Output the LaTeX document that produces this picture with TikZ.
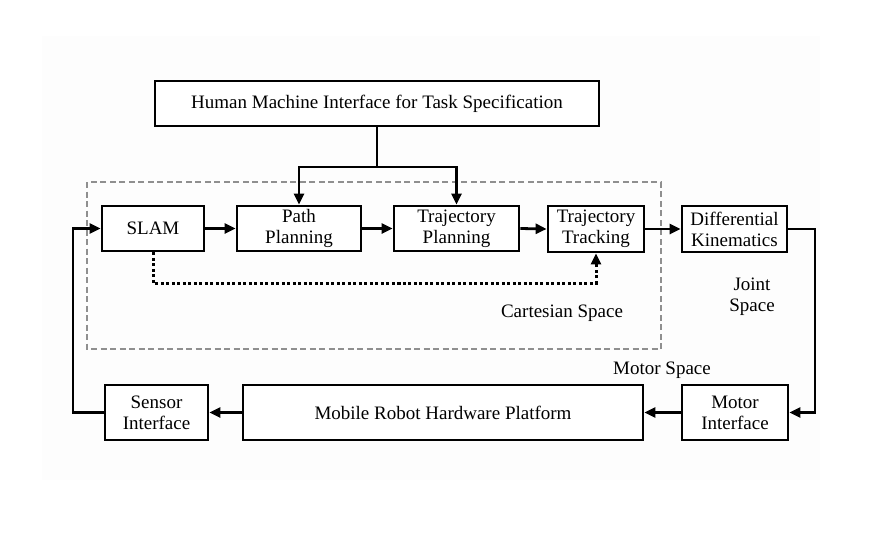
\documentclass[tikz,border=0pt]{standalone}
\usepackage{fontspec}
\setmainfont{Liberation Serif}
\usetikzlibrary{arrows.meta}
\definecolor{dashgray}{HTML}{8F8F8F}
\definecolor{faint}{HTML}{FDFDFD}
\tikzset{
  box/.style={draw=black, line width=2.8pt, fill=white, align=center, inner sep=0pt,
    font=\fontsize{19}{21}\selectfont},
  lbl/.style={align=center, inner sep=0pt, font=\fontsize{19}{21}\selectfont},
  arr/.style={line width=2.8pt, -{Triangle[length=11pt,width=10pt]}},
  conn/.style={line width=2.8pt},
  dotarr/.style={line width=3pt, dash pattern=on 3pt off 2.5pt, -{Triangle[length=11pt,width=10pt]}},
  region/.style={draw=dashgray, line width=2.6pt, dash pattern=on 6pt off 3.5pt}
}
\begin{document}
\begin{tikzpicture}[x=1pt,y=-1pt]
\useasboundingbox (0,0) rectangle (885,544);
\fill[faint] (42,36) rectangle (820,480);
% region
\draw[region] (87,182) rectangle (661,349);
% boxes
\node[box, minimum width=444pt, minimum height=45pt] (hmi) at (377,103.5) {Human Machine Interface for Task Specification};
\node[box, minimum width=102pt, minimum height=45pt] (slam) at (153,228.5) {SLAM};
\node[box, minimum width=124pt, minimum height=45pt] (path) at (299,228.5) {Path\\Planning};
\node[box, minimum width=125pt, minimum height=45pt] (tplan) at (456.5,228.5) {Trajectory\\Planning};
\node[box, minimum width=96pt, minimum height=46pt] (track) at (596,229) {Trajectory\\Tracking};
\node[box, minimum width=105pt, minimum height=46pt] (dk) at (734.5,229) {Differential\\Kinematics};
\node[box, minimum width=103pt, minimum height=55pt] (sensor) at (156.5,412.5) {Sensor\\Interface};
\node[box, minimum width=400pt, minimum height=55pt] (mobile) at (443,412.5) {Mobile Robot Hardware Platform};
\node[box, minimum width=106pt, minimum height=55pt] (motor) at (735,412.5) {Motor\\Interface};
% labels
\node[lbl] (cart) at (562,313) {Cartesian Space};
\node[lbl] (joint) at (752,297) {Joint\\Space};
\node[lbl] (mspace) at (662,370) {Motor Space};
% coordinates
\coordinate (split) at (377,167);
\coordinate (rc) at (815,320);
\coordinate (lc) at (73,320);
\coordinate (dd) at (400,283);
% connectors
\draw[conn] (hmi.south) -- (split);
\draw[arr] (split) -| (path.north);
\draw[arr] (split) -| (tplan.north);
\draw[arr] (slam.east) -- (path.west);
\draw[arr] (path.east) -- (tplan.west);
\draw[arr] (tplan.east) -- (track.west);
\draw[arr] (track.east) -- (dk.west);
\draw[arr] (dk.east) -| (rc) |- (motor.east);
\draw[arr] (motor.west) -- (mobile.east);
\draw[arr] (mobile.west) -- (sensor.east);
\draw[arr] (sensor.west) -| (lc) |- (slam.west);
\draw[dotarr] (slam.south) |- (dd) -| (track.south);
\end{tikzpicture}
\end{document}
